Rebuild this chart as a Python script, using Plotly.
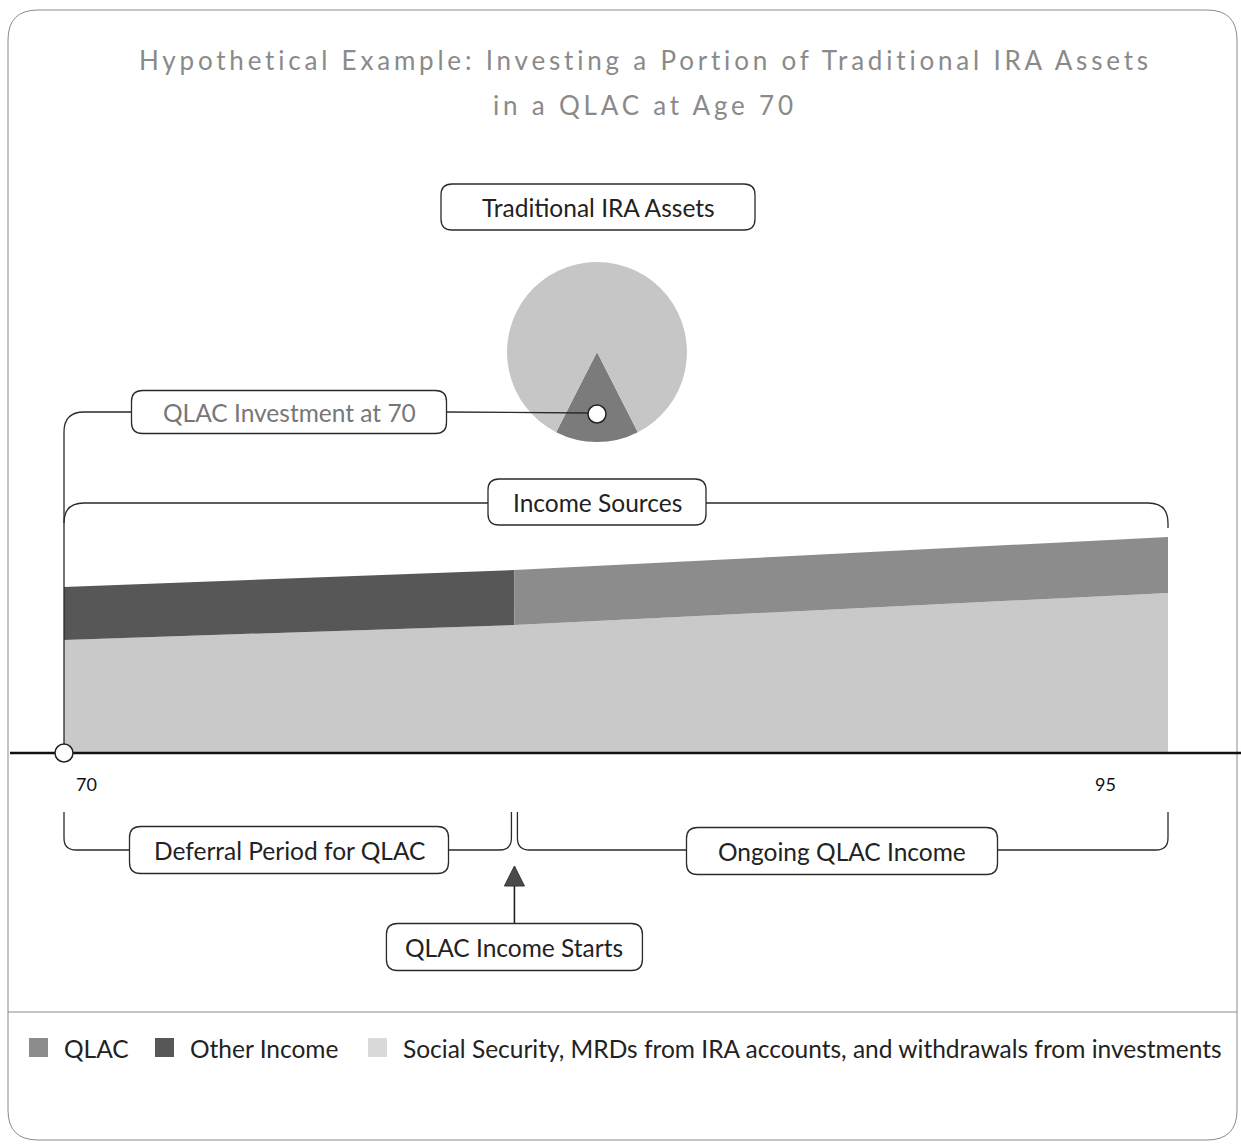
import plotly.graph_objects as go

W, H = 1241, 1146

# ---------------- data ----------------
title_lines = ["Hypothetical Example: Investing a Portion of Traditional IRA Assets",
               "in a QLAC at Age 70"]

ages = [70, 80.2, 95]                 # start age, QLAC income start, end age
social_security = [113, 128, 160]     # base layer at each age
other_income = [53, 55]               # ages 70 .. 80.2
qlac_income = [55, 56]                # ages 80.2 .. 95
tick_ages = [70, 95]
tick_labels = ["70", "95"]

pie_labels = ["QLAC", "Remaining Traditional IRA Assets"]
pie_values = [15, 85]

series_names = ["QLAC", "Other Income",
                "Social Security, MRDs from IRA accounts, and withdrawals from investments"]
series_colors = ["#8c8c8c", "#575757", "#c9c9c9"]
legend_swatch_colors = ["#8c8c8c", "#575757", "#dadada"]

box_texts = ["Traditional IRA Assets", "QLAC Investment at 70", "Income Sources",
             "Deferral Period for QLAC", "Ongoing QLAC Income", "QLAC Income Starts"]

# ---------------- geometry helpers ----------------
X70_PX, X95_PX, BASE_PX = 64, 1168, 753
PPY = (X95_PX - X70_PX) / (ages[-1] - ages[0])
x_range = [ages[0] - X70_PX / PPY, ages[0] - X70_PX / PPY + W / PPY]
y_range = [-(H - BASE_PX), BASE_PX]


def apx(age):
    return X70_PX + (age - ages[0]) * PPY


def rrect(x0, y0, x1, y1, r=10):
    return (f"M {x0+r},{y0} L {x1-r},{y0} Q {x1},{y0} {x1},{y0+r} "
            f"L {x1},{y1-r} Q {x1},{y1} {x1-r},{y1} L {x0+r},{y1} "
            f"Q {x0},{y1} {x0},{y1-r} L {x0},{y0+r} Q {x0},{y0} {x0+r},{y0} Z")


fig = go.Figure()

# ---------------- stacked areas ----------------
a0, a1, a2 = ages
fig.add_trace(go.Scatter(x=ages, y=social_security, mode="lines", fill="tozeroy",
                         fillcolor=series_colors[2], line=dict(width=0),
                         name=series_names[2], showlegend=False))
fig.add_trace(go.Scatter(
    x=[a0, a1, a1, a0],
    y=[social_security[0] + other_income[0], social_security[1] + other_income[1],
       social_security[1], social_security[0]],
    mode="lines", fill="toself", fillcolor=series_colors[1], line=dict(width=0),
    name=series_names[1], showlegend=False))
fig.add_trace(go.Scatter(
    x=[a1, a2, a2, a1],
    y=[social_security[1] + qlac_income[0], social_security[2] + qlac_income[1],
       social_security[2], social_security[1]],
    mode="lines", fill="toself", fillcolor=series_colors[0], line=dict(width=0),
    name=series_names[0], showlegend=False))

# dummy trace for pixel overlay axes
fig.add_trace(go.Scatter(x=[], y=[], xaxis="x2", yaxis="y2", showlegend=False))

# ---------------- pie ----------------
PIE_CX, PIE_CY, PIE_R = 597, 352, 90
qlac_angle = 360 * pie_values[0] / sum(pie_values)
fig.add_trace(go.Pie(labels=pie_labels, values=pie_values, sort=False,
                     direction="clockwise", rotation=180 - qlac_angle / 2,
                     marker=dict(colors=["#7b7b7b", "#c6c6c6"], line=dict(width=0)),
                     textinfo="none", showlegend=False,
                     domain=dict(x=[(PIE_CX - PIE_R) / W, (PIE_CX + PIE_R) / W],
                                 y=[1 - (PIE_CY + PIE_R) / H, 1 - (PIE_CY - PIE_R) / H])))

shapes = []
annos = []
LC = "#2a2a2a"


def path(d, color=LC, width=1.3, fill=None):
    s = dict(type="path", path=d, xref="x2", yref="y2", line=dict(color=color, width=width))
    if fill:
        s["fillcolor"] = fill
    shapes.append(s)


# outer frame + separator
path(rrect(8, 10, 1237, 1140, 30), color="#8a8a8a", width=1)
path("M 8,1012 L 1237,1012", color="#8a8a8a", width=1)

# axis baseline
path(f"M 10,{BASE_PX} L {W},{BASE_PX}", color="#111111", width=2.5)

x70, xq, x95 = apx(a0), apx(a1), apx(a2)
# QLAC investment bracket down to age 70
path(f"M 131,412 L {x70+20},412 Q {x70},412 {x70},432 L {x70},{BASE_PX-9}")
# connector to pie
path(f"M 446,412 L {PIE_CX-8},413")
# income sources bracket
path(f"M 488,503 L {x70+20},503 Q {x70},503 {x70},523")
path(f"M 706,503 L {x95-20},503 Q {x95},503 {x95},523 L {x95},528")
# lower brackets
path(f"M {x70},812 L {x70},838 Q {x70},850 {x70+12},850 L 129,850")
path(f"M 448,850 L {xq-15},850 Q {xq-3},850 {xq-3},838 L {xq-3},812")
path(f"M {xq+3},812 L {xq+3},838 Q {xq+3},850 {xq+15},850 L 686,850")
path(f"M 997,850 L {x95-12},850 Q {x95},850 {x95},838 L {x95},812")
# arrow
path(f"M {xq},866 L {xq+10},886 L {xq-10},886 Z", color="#333333", width=1, fill="#4a4a4a")
path(f"M {xq},886 L {xq},924", color="#222222", width=1.6)

# label boxes
boxes = [
    (box_texts[0], 598, 207, 314, 46, "#222222"),
    (box_texts[1], 289, 412, 315, 43, "#777777"),
    (box_texts[2], 597, 502, 218, 46, "#222222"),
    (box_texts[3], 289, 850, 319, 47, "#222222"),
    (box_texts[4], 842, 851, 311, 47, "#222222"),
    (box_texts[5], xq, 947, 256, 47, "#222222"),
]
for txt, cx, cy, bw, bh, tc in boxes:
    path(rrect(cx - bw / 2, cy - bh / 2, cx + bw / 2, cy + bh / 2, 11), fill="white")
    annos.append(dict(x=cx, y=cy, xref="x2", yref="y2", text=txt, showarrow=False,
                      font=dict(family="Lato", size=24.5, color=tc),
                      xanchor="center", yanchor="middle"))

# white markers
for cx, cy in [(x70, BASE_PX), (PIE_CX, 414)]:
    shapes.append(dict(type="circle", xref="x2", yref="y2", x0=cx - 9, x1=cx + 9,
                       y0=cy - 9, y1=cy + 9, fillcolor="white",
                       line=dict(color="#222222", width=1.5)))

# title
for line, ty in zip(title_lines, [60, 105]):
    annos.append(dict(x=645, y=ty, xref="x2", yref="y2",
                      text=f'<span style="letter-spacing:3.8px">{line}</span>',
                      showarrow=False, font=dict(family="Lato", size=26, color="#8a8a8a"),
                      xanchor="center", yanchor="middle"))

# tick labels
for age, lab in zip(tick_ages, tick_labels):
    annos.append(dict(x=age, y=0, xref="x", yref="y", text=lab, showarrow=False,
                      font=dict(family="Lato", size=18, color="#111111"),
                      xanchor="left" if age == tick_ages[0] else "right",
                      xshift=10 if age == tick_ages[0] else -50,
                      yanchor="middle", yshift=-31))

# legend
legend_x = [29, 155, 368]
for name, col, lx in zip(series_names, legend_swatch_colors, legend_x):
    shapes.append(dict(type="rect", xref="x2", yref="y2", x0=lx, x1=lx + 19,
                       y0=1038, y1=1057, fillcolor=col, line=dict(width=0)))
    annos.append(dict(x=lx + 33, y=1048, xref="x2", yref="y2", text=name, showarrow=False,
                      font=dict(family="Lato", size=24.5, color="#222222"),
                      xanchor="left", yanchor="middle"))

fig.update_layout(
    width=W, height=H, margin=dict(l=0, r=0, t=0, b=0, pad=0, autoexpand=False),
    paper_bgcolor="white", plot_bgcolor="white", showlegend=False,
    xaxis=dict(range=x_range, visible=False, fixedrange=True),
    yaxis=dict(range=y_range, visible=False, fixedrange=True),
    xaxis2=dict(range=[0, W], visible=False, overlaying="x", fixedrange=True),
    yaxis2=dict(range=[H, 0], visible=False, overlaying="y", fixedrange=True),
    shapes=shapes, annotations=annos,
)

fig.write_html("out.html", config={"displayModeBar": False},
               post_script="document.body.style.margin='0';document.body.style.overflow='hidden';")
